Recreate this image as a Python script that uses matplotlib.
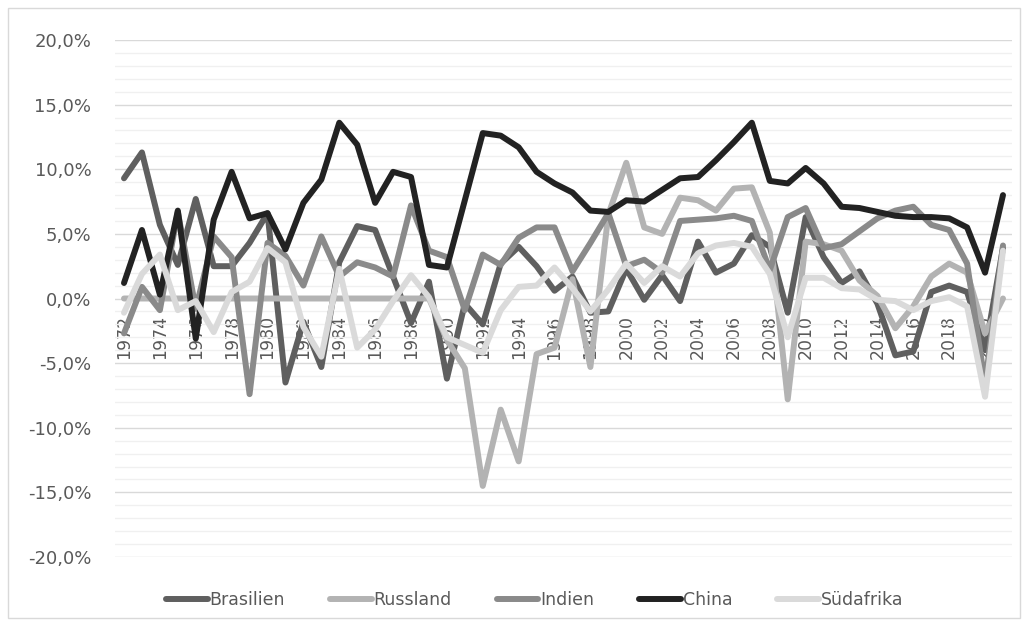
import matplotlib
matplotlib.use("Agg")
import matplotlib.pyplot as plt
from matplotlib.ticker import MultipleLocator, FuncFormatter
from matplotlib.patches import Rectangle

years = list(range(1972, 2022))

brasilien = [9.3, 11.3, 5.7, 2.6, 7.7, 2.5, 2.5, 4.3, 6.6, -6.5,
             -1.8, -5.3, 2.8, 5.6, 5.3, 1.7, -1.9, 1.3, -6.2, -0.4,
             -2.0, 2.7, 4.0, 2.5, 0.6, 1.7, -1.1, -1.0, 2.3, -0.1,
             1.8, -0.2, 4.4, 2.0, 2.7, 4.9, 4.0, -1.1, 6.3, 3.2,
             1.2, 2.1, -0.4, -4.4, -4.1, 0.5, 1.0, 0.5, -4.0, 3.9]

russland = [0.0] * 18 + [-3.2, -5.4,
            -14.5, -8.6, -12.6, -4.3, -3.8, 1.5, -5.3, 6.5, 10.5, 5.5,
            5.0, 7.8, 7.6, 6.8, 8.5, 8.6, 5.1, -7.8, 4.4, 4.2,
            3.7, 1.4, 0.2, -2.3, -0.6, 1.7, 2.7, 2.0, -2.7, 0.0]

indien = [-2.7, 0.9, -0.9, 6.7, -0.8, 4.8, 3.2, -7.4, 4.3, 3.3,
          1.0, 4.8, 1.7, 2.8, 2.4, 1.7, 7.2, 3.7, 3.2, -0.9,
          3.4, 2.6, 4.7, 5.5, 5.5, 2.1, 4.3, 6.6, 2.5, 3.0,
          2.0, 6.0, 6.1, 6.2, 6.4, 6.0, 2.2, 6.3, 7.0, 3.9,
          4.2, 5.2, 6.2, 6.8, 7.1, 5.7, 5.3, 2.7, -6.6, 4.1]

china = [1.2, 5.3, 0.3, 6.8, -3.1, 6.1, 9.8, 6.2, 6.6, 3.8,
         7.4, 9.2, 13.6, 11.9, 7.4, 9.8, 9.4, 2.6, 2.4, 7.6,
         12.8, 12.6, 11.7, 9.8, 8.9, 8.2, 6.8, 6.7, 7.6, 7.5,
         8.4, 9.3, 9.4, 10.7, 12.1, 13.6, 9.1, 8.9, 10.1, 8.9,
         7.1, 7.0, 6.7, 6.4, 6.3, 6.3, 6.2, 5.5, 2.0, 8.0]

suedafrika = [-1.1, 1.9, 3.4, -0.9, -0.2, -2.6, 0.5, 1.3, 3.9, 2.8,
              -2.2, -4.5, 2.3, -3.8, -2.4, -0.2, 1.8, 0.1, -3.0, -3.6,
              -4.2, -0.9, 0.9, 1.0, 2.4, 0.8, -1.0, 0.7, 2.7, 1.2,
              2.5, 1.7, 3.5, 4.1, 4.3, 4.0, 1.9, -3.0, 1.6, 1.6,
              0.8, 0.7, -0.1, -0.2, -0.9, -0.2, 0.1, -0.6, -7.6, 3.7]

series_names = ["Brasilien", "Russland", "Indien", "China", "Südafrika"]
series_values = [brasilien, russland, indien, china, suedafrika]
series_colors = ["#5f5f5f", "#b3b3b3", "#8a8a8a", "#222222", "#dadada"]

fig = plt.figure(figsize=(10.28, 6.25), dpi=100)
fig.patches.append(Rectangle((0.008, 0.012), 0.984, 0.976, transform=fig.transFigure,
                             fill=False, edgecolor="#d9d9d9", linewidth=1.0))
ax = fig.add_axes([0.1119, 0.1088, 0.8725, 0.8272])

for name, vals, col in zip(series_names, series_values, series_colors):
    ax.plot(years, vals, color=col, linewidth=4.3, label=name,
            solid_capstyle="round", solid_joinstyle="round")

ax.set_xlim(1971.5, 2021.5)
ax.set_ylim(-20, 20)
ax.yaxis.set_major_locator(MultipleLocator(5))
ax.yaxis.set_minor_locator(MultipleLocator(1))
ax.yaxis.set_major_formatter(FuncFormatter(lambda v, p: f"{v:.1f}%".replace(".", ",")))
ax.set_axisbelow(True)
ax.grid(axis="y", which="major", color="#d9d9d9", linewidth=1.0)
ax.grid(axis="y", which="minor", color="#f0f0f0", linewidth=1.0)
ax.grid(axis="x", visible=False)

for s in ax.spines.values():
    s.set_visible(False)
ax.spines["bottom"].set_position(("data", 0))

ax.set_xticks(years[::2])
ax.set_xticklabels([str(y) for y in years[::2]], rotation=90, va="top")
ax.tick_params(axis="x", length=0, pad=12, labelsize=12.5, labelcolor="#595959")
ax.tick_params(axis="y", which="both", length=0, pad=17, labelsize=13, labelcolor="#595959")

leg = fig.legend(loc="lower center", bbox_to_anchor=(0.52, 0.0), ncol=5, frameon=False,
                 fontsize=12.5, handlelength=2.4, handletextpad=0.1, columnspacing=2.6,
                 labelcolor="#595959")

fig.savefig("out.png", dpi=100)
